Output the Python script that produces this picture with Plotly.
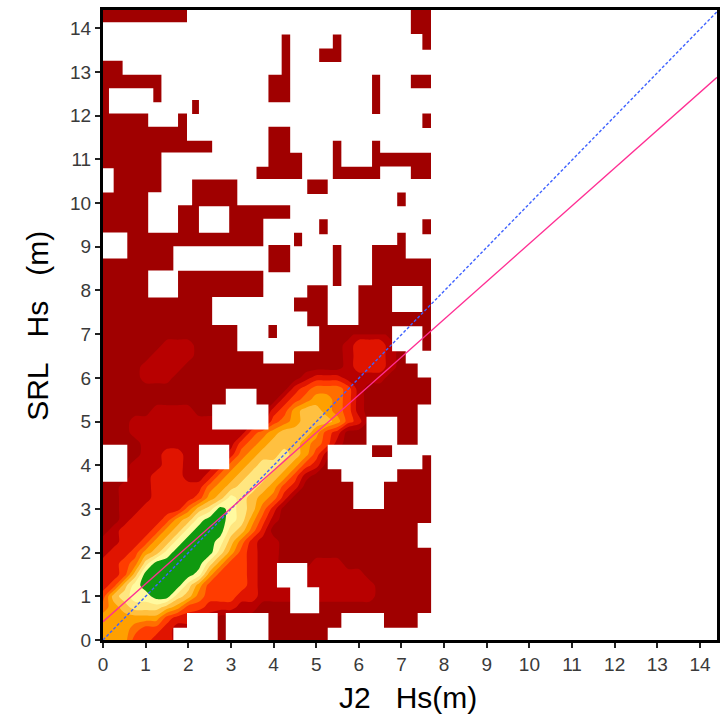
import plotly.graph_objects as go

X_MAX = 14.40
Y_MAX = 14.42
FIELD_X_MAX = 7.70
tick_values = list(range(0, 15))

# Density class per grid node, top row is Hs=7.0, bottom row Hs=0.0
density_y = [7.0 - 0.25 * i for i in range(29)]
density_x = [0.25 * i for i in range(31)] + [7.7]
density_rows = [
    "00000000000000000000000011100000",  # 7.00
    "00000011100000000000000122210000",  # 6.75
    "00000111100000000000000122210000",  # 6.50
    "00001111000000000000000122210000",  # 6.25
    "00001110000000000001222111100000",  # 6.00
    "00000000000000000023444310000000",  # 5.75
    "00000000000000000234554310000000",  # 5.50
    "00000111100000002356654310000000",  # 5.25
    "00011111111111113456665320000000",  # 5.00
    "00011111111111345666532000000000",  # 4.75
    "00001111111113456665431000000000",  # 4.50
    "00001122111124566765310000000000",  # 4.25
    "00011122111245677653200000000000",  # 4.00
    "00011222112456776531000000000000",  # 3.75
    "00111222224567765320000000000000",  # 3.50
    "00111222235687654200000000000000",  # 3.25
    "00112222467987642000000000000000",  # 3.00
    "00122235689987531000000000000000",  # 2.75
    "01222356899976420000000000000000",  # 2.50
    "11223568999864211000000000000000",  # 2.25
    "12235689999753211000000000000000",  # 2.00
    "22347999997533211000111000000000",  # 1.75
    "22369999985333211111111110000000",  # 1.50
    "23689999753333211111111111000000",  # 1.25
    "36788997643332211111111111000000",  # 1.00
    "45677765332221100000000000000000",  # 0.75
    "55555532211000000000000000000000",  # 0.50
    "55543321100000000000000000000000",  # 0.25
    "55533221000000000000000000000000",  # 0.00
]

# Horizontal bands of occupied cells: (upper Hs, lower Hs, [x start, x end, ...])
occupied_bands = [
    (14.42, 14.13, [0, 1.97, 7.22, 7.70]),
    (14.13, 13.86, [7.22, 7.70]),
    (13.86, 13.54, [4.19, 4.39, 5.39, 5.59, 7.49, 7.70]),
    (13.54, 13.50, [4.19, 4.39, 5.07, 5.59, 7.49, 7.70]),
    (13.50, 13.26, [4.19, 4.39, 5.07, 5.59]),
    (13.26, 13.22, [0, 0.46, 4.19, 4.39, 5.07, 5.59]),
    (13.22, 12.94, [0, 0.46, 4.19, 4.39]),
    (12.94, 12.62, [0, 1.37, 3.88, 4.39, 6.31, 6.50, 7.22, 7.70]),
    (12.62, 12.36, [0, 0.14, 1.18, 1.37, 3.88, 4.39, 6.31, 6.50]),
    (12.36, 12.30, [0, 0.14, 1.18, 1.37, 2.09, 2.25, 3.88, 4.39, 6.31, 6.50]),
    (12.30, 12.05, [0, 0.14, 2.09, 2.25, 6.31, 6.50]),
    (12.05, 12.03, [0, 1.06, 1.76, 1.97, 2.09, 2.25, 6.31, 6.50, 7.49, 7.70]),
    (12.03, 11.75, [0, 1.06, 1.76, 1.97, 7.49, 7.70]),
    (11.75, 11.71, [0, 1.97, 3.88, 4.39, 7.49, 7.70]),
    (11.71, 11.43, [0, 1.97, 3.88, 4.39]),
    (11.43, 11.15, [0, 2.56, 3.88, 4.39, 5.39, 5.59, 6.31, 6.50]),
    (11.15, 10.83, [0, 1.37, 3.88, 4.67, 5.39, 5.59, 6.31, 7.70]),
    (10.83, 10.79, [0, 1.37, 3.60, 4.67, 5.39, 6.50, 7.22, 7.70]),
    (10.79, 10.54, [0.25, 1.37, 3.60, 4.67, 5.39, 6.50, 7.22, 7.70]),
    (10.54, 10.24, [0.25, 1.37, 2.09, 3.15, 4.79, 5.27]),
    (10.24, 10.20, [0, 1.06, 2.09, 3.15, 4.79, 5.27, 6.90, 7.10]),
    (10.20, 9.95, [0, 1.06, 2.09, 3.15, 6.90, 7.10]),
    (9.95, 9.92, [0, 1.06, 1.76, 4.39, 6.90, 7.10]),
    (9.92, 9.63, [0, 1.06, 1.76, 2.25, 2.96, 4.39]),
    (9.63, 9.32, [0, 1.06, 1.76, 2.25, 2.96, 3.76, 5.07, 5.27, 7.49, 7.70]),
    (9.32, 9.28, [0.57, 3.76, 4.48, 4.67, 5.07, 5.27, 6.90, 7.10, 7.49, 7.70]),
    (9.28, 9.04, [0.57, 3.76, 4.48, 4.67, 6.90, 7.10]),
    (9.04, 9.00, [0.57, 3.76, 3.88, 4.39, 4.48, 4.67, 5.39, 5.59, 6.31, 7.10]),
    (9.00, 8.73, [0.57, 1.65, 3.88, 4.39, 5.39, 5.59, 6.31, 7.10]),
    (8.73, 8.45, [0, 1.65, 3.88, 4.39, 5.39, 5.59, 6.31, 7.70]),
    (8.45, 8.41, [0, 1.06, 1.76, 3.76, 3.88, 4.39, 5.39, 5.59, 6.31, 7.70]),
    (8.41, 8.12, [0, 1.06, 1.76, 3.76, 5.39, 5.59, 6.31, 7.70]),
    (8.12, 8.09, [0, 1.06, 1.76, 3.76, 4.79, 5.27, 5.39, 5.59, 5.99, 7.70]),
    (8.09, 7.84, [0, 1.06, 1.76, 3.76, 4.79, 5.27, 5.99, 6.78, 7.49, 7.70]),
    (7.84, 7.51, [0, 2.56, 4.48, 5.27, 5.99, 6.78, 7.49, 7.70]),
    (7.51, 7.21, [0, 2.56, 4.79, 5.27, 5.99, 7.70]),
    (7.21, 7.17, [0, 3.15, 3.88, 4.08, 4.79, 7.70]),
    (7.17, 6.90, [0, 3.15, 3.88, 4.08, 5.07, 6.78, 7.49, 7.70]),
    (6.90, 6.61, [0, 3.15, 5.07, 6.78, 7.49, 7.70]),
    (6.61, 6.33, [0, 3.76, 4.48, 7.10]),
    (6.33, 6.01, [0, 7.38]),
    (6.01, 5.74, [0, 7.70]),
    (5.74, 5.38, [0, 2.88, 3.60, 7.70]),
    (5.38, 5.10, [0, 2.56, 3.88, 7.38]),
    (5.10, 4.82, [0, 2.56, 3.88, 6.18, 6.90, 7.38]),
    (4.82, 4.46, [0, 6.18, 6.90, 7.38]),
    (4.46, 4.23, [0.57, 2.25, 2.96, 5.27, 6.31, 6.78]),
    (4.23, 4.18, [0.57, 2.25, 2.96, 5.27, 6.31, 6.78, 7.49, 7.70]),
    (4.18, 3.91, [0.57, 2.25, 2.96, 5.27, 7.49, 7.70]),
    (3.91, 3.62, [0.57, 5.59, 6.90, 7.70]),
    (3.62, 3.00, [0, 5.87, 6.59, 7.70]),
    (3.00, 2.67, [0, 7.70]),
    (2.67, 2.11, [0, 7.38]),
    (2.11, 1.75, [0, 7.70]),
    (1.75, 1.20, [0, 4.08, 4.79, 7.70]),
    (1.20, 0.61, [0, 4.39, 5.07, 7.70]),
    (0.61, 0.27, [0, 1.97, 2.69, 2.88, 3.88, 5.59, 6.59, 7.38]),
    (0.27, 0.00, [0, 1.65, 2.69, 2.88, 3.88, 5.27]),
]

# One-to-one line and fitted line
one_to_one_x = [0, 14.4]
one_to_one_y = [0, 14.38]
fit_x = [0, 14.4]
fit_y = [0.42, 12.88]

class_colors = ["#A00000", "#B80000", "#E01400", "#FF3C00", "#FF6E00",
                "#FFA000", "#FFC040", "#FFE680", "#FFFAA0", "#0F990F"]
DARK = class_colors[0]

# Empty cells are the gaps between the occupied intervals of each band
empty_x, empty_y = [], []
for top, bottom, xs in occupied_bands:
    edges = [0.0] + list(xs) + [FIELD_X_MAX]
    for a, b in zip(edges[0::2], edges[1::2]):
        if b > a:
            right = b + 0.04 if b == FIELD_X_MAX else b
            t = min(top + 0.01, Y_MAX)
            empty_x += [a, right, right, a, a, None]
            empty_y += [bottom, bottom, t, t, bottom, None]

z_density = [[int(c) for c in row.ljust(32, "0")[:32]] for row in density_rows]

n = len(class_colors)
scale = []
for i, c in enumerate(class_colors):
    scale += [[i / n, c], [(i + 1) / n, c]]

fig = go.Figure()
fig.add_trace(go.Heatmap(
    x=[0, FIELD_X_MAX], y=[0, Y_MAX], z=[[1]],
    colorscale=[[0, DARK], [1, DARK]], showscale=False, hoverinfo="skip"))
fig.add_trace(go.Contour(
    x=density_x, y=density_y, z=z_density,
    zmin=-0.5, zmax=9.5, autocontour=False,
    contours=dict(start=0.5, end=8.5, size=1, coloring="fill", showlines=False),
    line=dict(width=0, smoothing=0.8),
    colorscale=scale, showscale=False, hoverinfo="skip"))
fig.add_trace(go.Scatter(
    x=empty_x, y=empty_y, mode="lines", fill="toself",
    fillcolor="#FFFFFF", line=dict(width=0, color="#FFFFFF"), hoverinfo="skip"))
fig.add_trace(go.Scatter(
    x=one_to_one_x, y=one_to_one_y, mode="lines",
    line=dict(color="#3F62FF", width=1.4, dash="3px,2px")))
fig.add_trace(go.Scatter(
    x=fit_x, y=fit_y, mode="lines",
    line=dict(color="#FF2E93", width=1.3)))

axis_style = dict(
    automargin=False,
    showgrid=False, zeroline=False, showline=True, mirror=True,
    linecolor="black", linewidth=3, ticks="outside", ticklen=5,
    tickwidth=2, tickcolor="#222222", tickvals=tick_values,
    tickfont=dict(family="Liberation Sans", size=19, color="#3a3a3a"),
)
title_font = dict(family="Liberation Sans", size=30, color="#000000")
fig.update_layout(
    width=720, height=721, autosize=False,
    margin=dict(l=103, r=3, t=10, b=81),
    paper_bgcolor="white", plot_bgcolor="white", showlegend=False,
    xaxis=dict(range=[0, X_MAX], **axis_style),
    yaxis=dict(range=[0, Y_MAX], **axis_style),
    annotations=[
        dict(text="J2\u00a0\u00a0\u00a0Hs(m)", xref="paper", yref="paper",
             x=0.497, y=-0.0915, xanchor="center", yanchor="middle",
             showarrow=False, font=title_font),
        dict(text="SRL\u00a0\u00a0\u00a0Hs\u00a0\u00a0\u00a0(m)", xref="paper", yref="paper",
             x=-0.106, y=0.4985, xanchor="center", yanchor="middle", textangle=-90,
             showarrow=False, font=title_font),
    ],
)
fig.write_html("out.html", default_width="720px", default_height="721px",
               config={"displayModeBar": False},
               post_script="document.body.style.margin='0';")
